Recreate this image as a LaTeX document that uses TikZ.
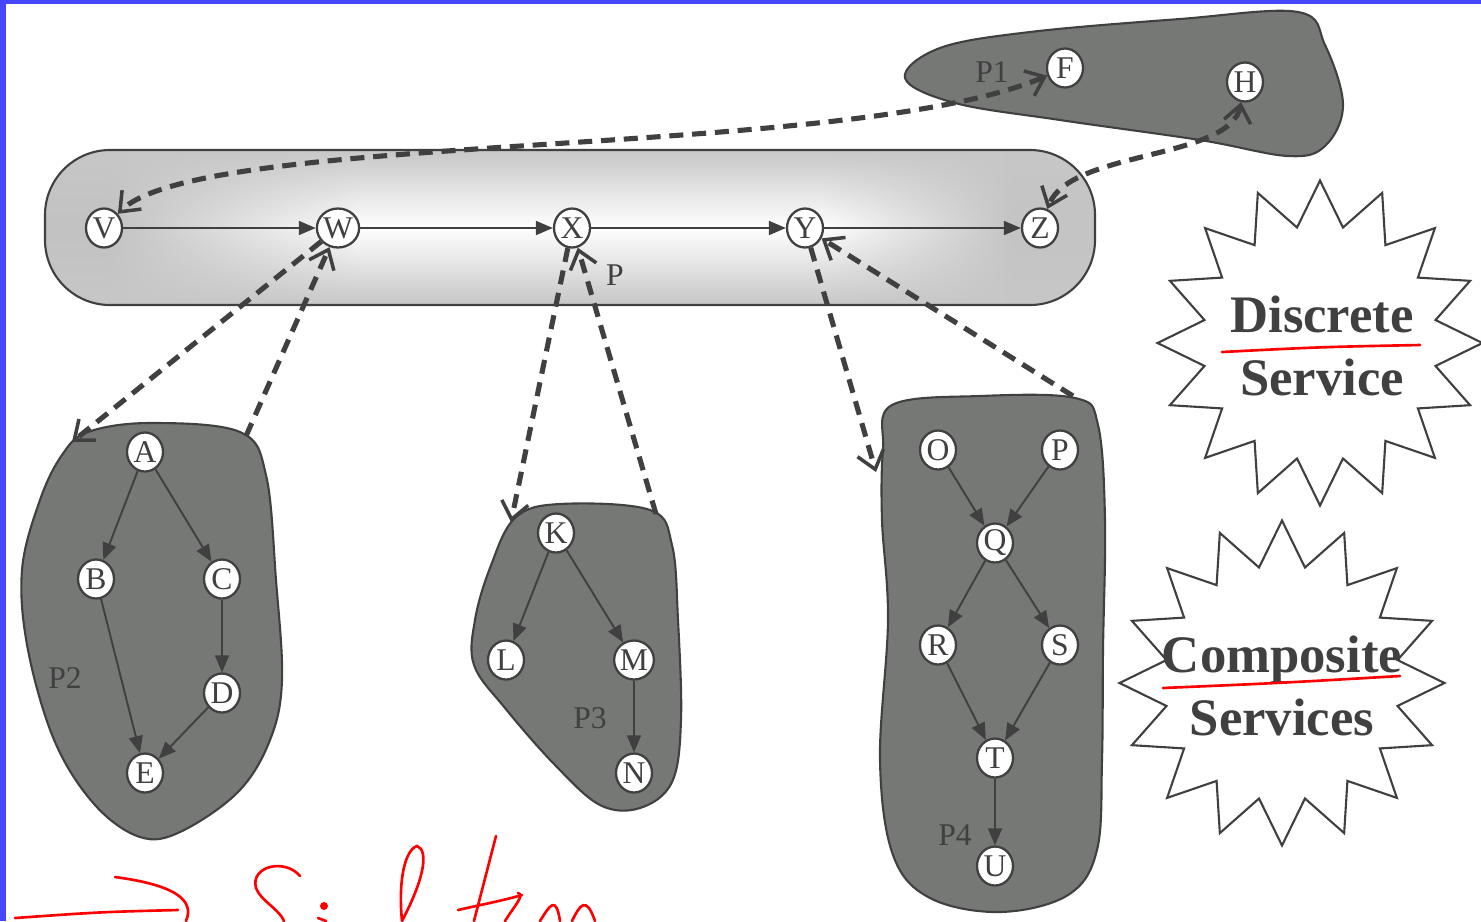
\documentclass[tikz,border=0pt]{standalone}
\usepackage{fontspec}
\setmainfont{Liberation Serif}
\usepackage{tikz}
\usetikzlibrary{arrows.meta,shapes.geometric,fadings}
\definecolor{ink}{HTML}{404040}
\definecolor{blobgray}{HTML}{767876}
\definecolor{frameblue}{HTML}{4646FA}
\pgfdeclarehorizontalshading{pshade}{100bp}{color(0bp)=(black!24); color(28bp)=(black!24); color(40bp)=(white); color(62bp)=(white); color(71bp)=(black!23); color(100bp)=(black!23)}
\tikzfading[name=pband, top color=transparent!0, bottom color=transparent!0, middle color=transparent!100]

\begin{document}
\begin{tikzpicture}[x=0.02cm,y=-0.02cm,
  vtx/.style={ellipse,draw=ink,line width=1.3pt,fill=white,inner sep=0pt,minimum width=0.72cm,minimum height=0.78cm,font=\fontsize{18}{18}\selectfont,text=ink},
  blob/.style={draw=ink,line width=1.2pt,fill=blobgray},
  lbl/.style={font=\fontsize{18}{18}\selectfont,text=ink},
  ar/.style={-{Triangle[length=3.4mm,width=2.8mm]},draw=ink,line width=1.1pt},
  dar/.style={-{Straight Barb[length=3.4mm,width=5.4mm,line width=2pt]},draw=ink,line width=2.9pt,dash pattern=on 8pt off 5pt},
  dar2/.style={dar,{Straight Barb[length=3.4mm,width=5.4mm,line width=2pt]}-{Straight Barb[length=3.4mm,width=5.4mm,line width=2pt]}},
  burst/.style={star,star points=16,star point ratio=1.38,draw=ink,line width=1.2pt,fill=white,minimum size=6.5cm,inner sep=0pt},
  bigtxt/.style={font=\bfseries\fontsize{30}{36}\selectfont,text=ink,align=center},
  pen/.style={draw=red,line width=1.5pt,line cap=round}]
  \useasboundingbox (0,0) rectangle (1481,921);
  \fill[frameblue] (0,0) rectangle (6,921);
  \fill[frameblue] (0,0) rectangle (1481,4);

  \shade[shading=pshade,rounded corners=1.3cm] (45,150) rectangle (1095,305);
  \fill[black!22,path fading=pband,rounded corners=1.3cm] (45,150) rectangle (1095,305);
  \draw[ink,line width=1.2pt,rounded corners=1.3cm] (45,150) rectangle (1095,305);
  \draw[blob] plot[smooth cycle,tension=0.6] coordinates {(905,78) (940,48) (1030,32) (1180,19) (1298,12) (1325,45) (1343,105) (1325,146) (1288,156) (1200,140) (1060,120) (955,103)};
  \draw[blob] plot[smooth cycle,tension=0.6] coordinates {(88,432) (150,423) (240,432) (266,475) (276,580) (282,680) (270,740) (238,792) (180,832) (140,837) (95,805) (55,742) (28,650) (22,570) (40,500) (62,455)};
  \draw[blob] plot[smooth cycle,tension=0.6] coordinates {(515,518) (560,504) (650,510) (672,545) (678,620) (681,720) (672,782) (640,808) (600,805) (555,765) (505,708) (474,665) (475,620) (490,568)};
  \draw[blob] plot[smooth cycle,tension=0.6] coordinates {(892,405) (980,396) (1075,398) (1098,425) (1105,520) (1103,650) (1102,760) (1097,850) (1068,895) (1000,912) (930,898) (893,855) (880,760) (888,620) (882,520) (883,450)};

  \node[vtx] (v) at (104,228) {V};
  \node[vtx] (w) at (338,228) {W};
  \node[vtx] (x) at (572,228) {X};
  \node[vtx] (y) at (805,228) {Y};
  \node[vtx] (z) at (1040,228) {Z};
  \node[lbl] (lp) at (615,275) {P};
  \node[vtx] (f) at (1065,68) {F};
  \node[vtx] (h) at (1245,82) {H};
  \node[lbl] (lp1) at (992,72) {P1};
  \node[vtx] (a) at (145,452) {A};
  \node[vtx] (b) at (96,579) {B};
  \node[vtx] (c) at (222,579) {C};
  \node[vtx] (d) at (222,693) {D};
  \node[vtx] (e) at (145,773) {E};
  \node[lbl] (lp2) at (65,678) {P2};
  \node[vtx] (k) at (556,533) {K};
  \node[vtx] (l) at (506,660) {L};
  \node[vtx] (m) at (634,660) {M};
  \node[vtx] (n) at (634,773) {N};
  \node[lbl] (lp3) at (590,718) {P3};
  \node[vtx] (o) at (938,450) {O};
  \node[vtx] (p) at (1060,450) {P};
  \node[vtx] (q) at (995,543) {Q};
  \node[vtx] (r) at (938,645) {R};
  \node[vtx] (s) at (1060,645) {S};
  \node[vtx] (t) at (995,758) {T};
  \node[vtx] (u) at (995,866) {U};
  \node[lbl] (lp4) at (955,835) {P4};
  \coordinate (p2in) at (72,442);
  \coordinate (p2out) at (246,436);
  \coordinate (p3in) at (511,522);
  \coordinate (p3out) at (656,514);
  \coordinate (p4in) at (876,472);
  \coordinate (p4out) at (1073,396);

  \draw[ar] (v) -- (w);
  \draw[ar] (w) -- (x);
  \draw[ar] (x) -- (y);
  \draw[ar] (y) -- (z);
  \draw[ar] (a) -- (b);
  \draw[ar] (a) -- (c);
  \draw[ar] (c) -- (d);
  \draw[ar] (d) -- (e);
  \draw[ar] (b) -- (e);
  \draw[ar] (k) -- (l);
  \draw[ar] (k) -- (m);
  \draw[ar] (m) -- (n);
  \draw[ar] (o) -- (q);
  \draw[ar] (p) -- (q);
  \draw[ar] (q) -- (r);
  \draw[ar] (q) -- (s);
  \draw[ar] (r) -- (t);
  \draw[ar] (s) -- (t);
  \draw[ar] (t) -- (u);
  \draw[dar2] (f) .. controls (850,160) and (200,130) .. (v);
  \draw[dar2] (h) .. controls (1230,160) and (1070,150) .. (z);
  \draw[dar] (w) -- (p2in);
  \draw[dar] (p2out) -- (w);
  \draw[dar] (x) -- (p3in);
  \draw[dar] (p3out) -- (x);
  \draw[dar] (y) -- (p4in);
  \draw[dar] (p4out) -- (y);

  \node[burst] (dsc) at (1320,343) {};
  \node[bigtxt] (dsct) at (1322,346) {Discrete\\Service};
  \node[burst] (cmp) at (1282,683) {};
  \node[bigtxt] (cmpt) at (1282,686) {Composite\\Services};

  \draw[pen] (1222,352) .. controls (1320,347) .. (1420,345);
  \draw[pen] (1163,688) .. controls (1280,683) .. (1400,676);
  \draw[pen] (15,918) .. controls (100,912) .. (178,910);
  \draw[pen] (115,877) .. controls (175,885) and (195,900) .. (186,921);
  \draw[pen] (300,876) .. controls (285,858) and (250,866) .. (256,888) .. controls (260,900) and (280,910) .. (284,921);
  \fill[red] (324,906) circle (4);
  \draw[pen] (318,918) -- (326,921);
  \draw[pen] (402,921) .. controls (398,880) and (405,850) .. (417,846) .. controls (428,850) and (426,875) .. (402,921);
  \draw[pen] (496,836) -- (474,921);
  \draw[pen] (458,910) .. controls (480,905) and (505,900) .. (522,895);
  \draw[pen] (505,921) .. controls (515,905) and (525,895) .. (518,893);
  \draw[pen] (540,921) .. controls (550,905) and (556,895) .. (560,921);
  \draw[pen] (572,921) .. controls (580,905) and (586,895) .. (595,921);
\end{tikzpicture}
\end{document}
